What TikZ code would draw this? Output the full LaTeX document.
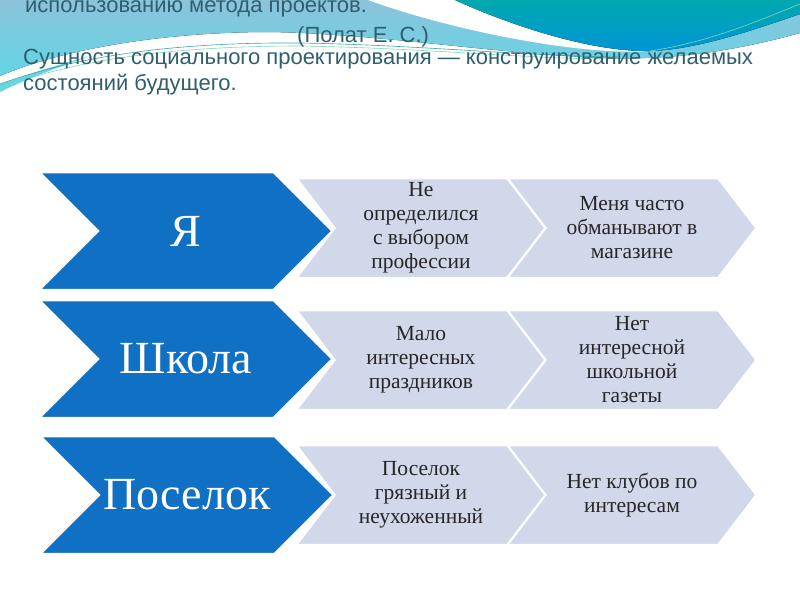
\documentclass[tikz,border=0pt]{standalone}
\usepackage{fontspec}
\setmainfont{Liberation Serif}
\setsansfont{Liberation Sans}
\usetikzlibrary{shapes.symbols,positioning}
\definecolor{sdark}{HTML}{1070C4}
\definecolor{slight}{HTML}{D0D8EA}
\definecolor{stext}{HTML}{2F5F6E}
\definecolor{ssky}{HTML}{8CC3DA}
\definecolor{scyan}{HTML}{62D5E6}
\definecolor{steal}{HTML}{00A9AE}
\definecolor{sblue}{HTML}{0094D6}
\definecolor{sline}{HTML}{3AA89E}
\definecolor{sgreen}{HTML}{7ED9B8}
\tikzset{
  head/.style={font=\sffamily\fontsize{22}{24}\selectfont,text=stext,inner sep=0pt,anchor=base west},
  darksig/.style={signal,signal from=west,signal to=east,signal pointer angle=90,fill=sdark,draw=white,line width=1.5pt,minimum width=292pt,minimum height=117pt,text=white,font=\fontsize{46}{50}\selectfont,inner sep=0pt},
  lightsig/.style={signal,signal from=west,signal to=east,signal pointer angle=105,fill=slight,draw=white,line width=1.5pt,minimum width=248pt,minimum height=99pt,align=center,font=\fontsize{21.5}{24}\selectfont,text=black!85,inner sep=0pt},
  bgline/.style={draw=sline,line width=0.6pt},
}
\begin{document}
\begin{tikzpicture}[x=1pt,y=-1pt]
\useasboundingbox (0,0) rectangle (800,600);
\fill[white] (0,0) rectangle (800,600);
% top wave
\fill[top color=ssky,bottom color=scyan] (0,0) -- (800,0) -- (800,33) .. controls (720,55) and (660,60) .. (600,58) .. controls (480,52) and (380,34) .. (270,32) .. controls (160,32) and (60,50) .. (0,76) -- cycle;
\fill[white] (368,0) -- (455,0) .. controls (510,25) and (590,52) .. (650,51) .. controls (580,56) and (450,30) .. (368,0) -- cycle;
\fill[top color=steal,bottom color=sblue] (455,0) -- (800,0) -- (800,14) .. controls (740,35) and (690,50) .. (650,51) .. controls (590,52) and (510,25) .. (455,0) -- cycle;
\draw[draw=sgreen,line width=0.6pt] (650,51) .. controls (710,42) and (760,20) .. (800,4);
\fill[scyan] (0,84) .. controls (30,74) and (60,64) .. (90,56) .. controls (50,70) and (20,82) .. (0,92) -- cycle;
\draw[bgline] (0,84) .. controls (80,55) and (180,42) .. (300,43) .. controls (420,45) and (520,56) .. (620,57);
\draw[bgline,draw=sgreen] (0,88) .. controls (80,58) and (180,46) .. (300,46) .. controls (420,48) and (520,58) .. (600,59);
% heading
\node[head] (h0) at (25,12) {использованию метода проектов.};
\node[head] (h1) at (297,42) {(Полат Е. С.)};
\node[head] (h2) at (23,64) {Сущность социального проектирования — конструирование желаемых};
\node[head] (h3) at (23,90) {состояний будущего.};
% rows
\node[lightsig] (ya1) at (421,228) {Не\\определился\\с выбором\\профессии};
\node[lightsig] (ya2) at (632,228) {Меня часто\\обманывают в\\магазине};
\node[darksig] (ya) at (186,231) {Я};
\node[lightsig] (shk1) at (421,360) {Мало\\интересных\\праздников};
\node[lightsig] (shk2) at (632,360) {Нет\\интересной\\школьной\\газеты};
\node[darksig] (shk) at (186,359) {Школа};
\node[lightsig] (pos1) at (421,495) {Поселок\\грязный и\\неухоженный};
\node[lightsig] (pos2) at (632,495) {Нет клубов по\\интересам};
\node[darksig] (pos) at (187,495) {Поселок};
\end{tikzpicture}
\end{document}
